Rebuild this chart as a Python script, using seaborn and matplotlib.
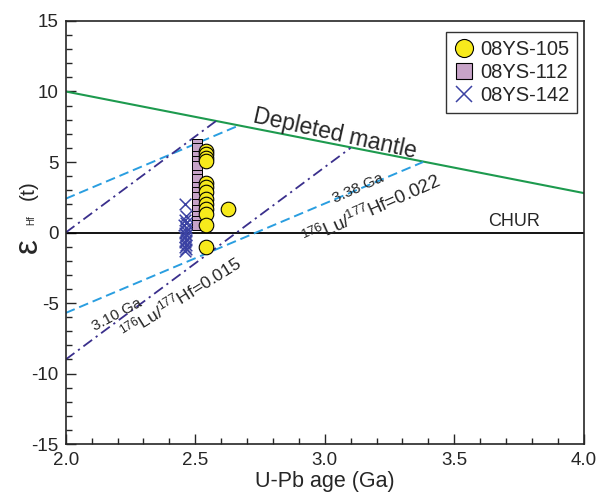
import numpy as np
import pandas as pd
import seaborn as sns
import matplotlib
matplotlib.use("Agg")
import matplotlib.pyplot as plt
from matplotlib.ticker import MultipleLocator, FormatStrFormatter
from matplotlib.lines import Line2D

# ---- data ----
age_105 = [2.54, 2.54, 2.54, 2.54, 2.54, 2.54, 2.54, 2.54, 2.54, 2.54, 2.54, 2.54, 2.54, 2.627]
eps_105 = [5.8, 5.55, 5.25, 5.05, 3.5, 3.2, 2.9, 2.4, 2.0, 1.7, 1.3, 0.5, -1.0, 1.7]

age_112 = [2.508] * 15
eps_112 = [6.3, 6.0, 5.4, 5.1, 4.7, 4.1, 3.8, 3.2, 2.9, 2.5, 2.0, 1.6, 1.2, 0.8, 0.5]

age_142 = [2.462, 2.465, 2.46, 2.465, 2.458, 2.463, 2.466, 2.46, 2.464, 2.459, 2.465,
           2.461, 2.463, 2.462, 2.466, 2.459]
eps_142 = [2.0, 1.2, 0.9, 0.7, 0.5, 0.3, 0.1, 0.0, -0.2, -0.35, -0.5, -0.7, -0.85, -1.0,
           -1.15, -1.3]

dm_age = [2.0, 4.0]
dm_eps = [10.0, 2.8]
chur_age = [2.0, 4.0]
chur_eps = [0.0, 0.0]
lu022_upper_age = [2.0, 2.67]
lu022_upper_eps = [2.4, 7.6]
lu022_lower_age = [2.0, 3.38]
lu022_lower_eps = [-5.7, 5.0]
lu015_upper_age = [2.0, 2.58]
lu015_upper_eps = [0.0, 7.9]
lu015_lower_age = [2.0, 3.10]
lu015_lower_eps = [-9.0, 6.0]

samples = ["08YS-105", "08YS-112", "08YS-142"]

df = pd.DataFrame({
    "age": age_105 + age_112 + age_142,
    "eps": eps_105 + eps_112 + eps_142,
    "sample": [samples[0]] * len(age_105) + [samples[1]] * len(age_112) + [samples[2]] * len(age_142),
})

# ---- style ----
sns.set_style("ticks")
plt.rcParams["font.family"] = ["Liberation Sans", "DejaVu Sans"]
plt.rcParams["mathtext.fontset"] = "custom"
plt.rcParams["mathtext.rm"] = "Liberation Sans"
plt.rcParams["mathtext.it"] = "Liberation Sans:italic"
plt.rcParams["mathtext.bf"] = "Liberation Sans:bold"
plt.rcParams["axes.unicode_minus"] = False

fig = plt.figure(figsize=(6.03, 4.99), dpi=100)
ax = fig.add_axes([0.109, 0.110, 0.859, 0.848])

c_dm = "#1d9a4e"
c_blue = "#2a9ee0"
c_purple = "#3a2f8c"
c_yellow = "#f7ea1c"
c_lilac = "#c7a3c8"
c_cross = "#3b42a3"

ax.plot(chur_age, chur_eps, color="black", lw=1.3, zorder=2)
ax.plot(dm_age, dm_eps, color=c_dm, lw=1.5, zorder=2)
for a, e in [(lu022_upper_age, lu022_upper_eps), (lu022_lower_age, lu022_lower_eps)]:
    ax.plot(a, e, color=c_blue, lw=1.4, ls=(0, (5, 2.5)), zorder=2)
for a, e in [(lu015_upper_age, lu015_upper_eps), (lu015_lower_age, lu015_lower_eps)]:
    ax.plot(a, e, color=c_purple, lw=1.3, ls=(0, (6, 2.5, 1.2, 2.5)), zorder=2)

# data points
sub = df[df["sample"] == samples[1]]
sns.scatterplot(data=sub, x="age", y="eps", marker="s", s=60, color=c_lilac,
                edgecolor="black", linewidth=0.7, ax=ax, zorder=3, legend=False)
sub = df[df["sample"] == samples[2]]
sns.scatterplot(data=sub, x="age", y="eps", marker="x", s=70, color=c_cross,
                linewidth=1.1, ax=ax, zorder=3, legend=False)
sub = df[df["sample"] == samples[0]]
sns.scatterplot(data=sub, x="age", y="eps", marker="o", s=110, color=c_yellow,
                edgecolor="black", linewidth=0.8, ax=ax, zorder=4, legend=False)

# labels on chart
ax.text(3.04, 7.0, "Depleted mantle", fontsize=16.5, rotation=-12.5,
        ha="center", va="center", rotation_mode="anchor")
ax.text(3.73, 0.2, "CHUR", fontsize=13, ha="center", va="bottom")
ax.text(3.127, 3.15, "3.38 Ga", fontsize=11, rotation=24, ha="center", va="center",
        rotation_mode="anchor")
ax.text(3.18, 1.6, r"$^{176}$Lu/$^{177}$Hf=0.022", fontsize=13.5, rotation=24,
        ha="center", va="center", rotation_mode="anchor")
ax.text(2.197, -5.8, "3.10 Ga", fontsize=11, rotation=28, ha="center", va="center",
        rotation_mode="anchor")
ax.text(2.445, -4.6, r"$^{176}$Lu/$^{177}$Hf=0.015", fontsize=12.5, rotation=32,
        ha="center", va="center", rotation_mode="anchor")

# axes
ax.set_xlim(2.0, 4.0)
ax.set_ylim(-15, 15)
ax.xaxis.set_major_locator(MultipleLocator(0.5))
ax.xaxis.set_minor_locator(MultipleLocator(0.1))
ax.xaxis.set_major_formatter(FormatStrFormatter("%.1f"))
ax.yaxis.set_major_locator(MultipleLocator(5))
ax.yaxis.set_minor_locator(MultipleLocator(1))
ax.tick_params(which="both", direction="in", top=False, right=False, labelsize=13.5, width=1)
ax.tick_params(which="major", length=7)
ax.tick_params(which="minor", length=4)
ax.tick_params(axis="x", pad=6)
ax.tick_params(axis="y", pad=5)
for sp in ax.spines.values():
    sp.set_linewidth(1.2)
    sp.set_visible(True)

ax.set_xlabel("U-Pb age (Ga)", fontsize=15.5, labelpad=1)
ax.set_ylabel("")
ax.text(-0.073, 0.47, "ε", fontsize=24, rotation=90, ha="center", va="center",
        transform=ax.transAxes)
ax.text(-0.066, 0.53, "Hf", fontsize=7, rotation=90, ha="center", va="center",
        transform=ax.transAxes)
ax.text(-0.073, 0.6, "(t)", fontsize=15, rotation=90, ha="center", va="center",
        transform=ax.transAxes)

handles = [
    Line2D([], [], marker="o", ls="none", markersize=13, markerfacecolor=c_yellow,
           markeredgecolor="black", markeredgewidth=0.8),
    Line2D([], [], marker="s", ls="none", markersize=12, markerfacecolor=c_lilac,
           markeredgecolor="black", markeredgewidth=0.8),
    Line2D([], [], marker="x", ls="none", markersize=12, color=c_cross, markeredgewidth=1.1),
]
leg = ax.legend(handles, samples, loc="upper right", bbox_to_anchor=(0.988, 0.974),
                borderaxespad=0, fontsize=14.5, frameon=True, fancybox=False,
                handlelength=1.0, handletextpad=0.3, labelspacing=0.2, borderpad=0.4)
leg.get_frame().set_edgecolor("black")
leg.get_frame().set_linewidth(1.0)

fig.savefig("out.png", dpi=100)
